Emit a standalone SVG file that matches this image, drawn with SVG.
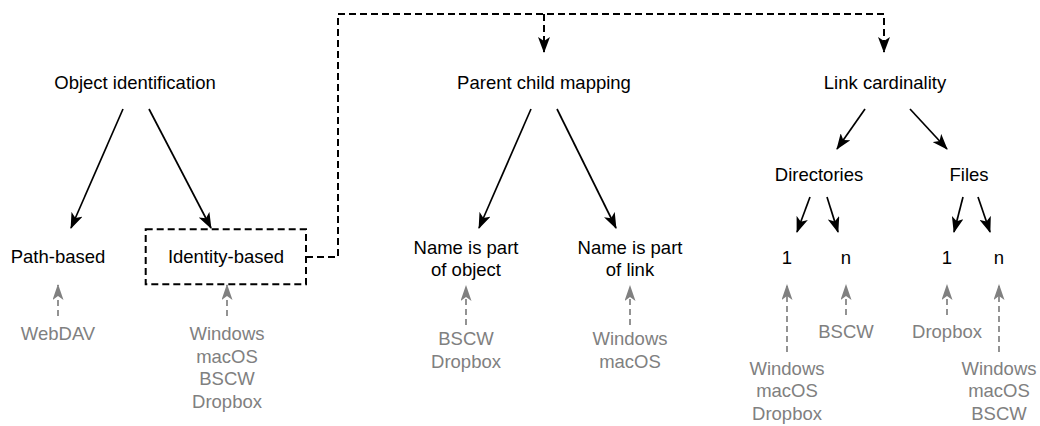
<svg xmlns="http://www.w3.org/2000/svg" width="1040" height="426" viewBox="0 0 1040 426">
<defs>
<marker id="ab" viewBox="0 0 16 12" refX="15" refY="6" markerWidth="16" markerHeight="12" markerUnits="userSpaceOnUse" orient="auto">
<path d="M0,0 L16,6 L0,12 L4,6 Z" fill="#000"/>
</marker>
<marker id="ag" viewBox="0 0 16 11" refX="15" refY="5.5" markerWidth="16" markerHeight="11" markerUnits="userSpaceOnUse" orient="auto">
<path d="M0,0 L16,5.5 L0,11 L4,5.5 Z" fill="#808080"/>
</marker>
<style>
text{font-family:"Liberation Sans",Arial,sans-serif;font-size:18.5px;text-anchor:middle}
.k{fill:#000}
.g{fill:#808080}
.e{stroke:#000;stroke-width:1.7;fill:none;marker-end:url(#ab)}
.d{stroke:#000;stroke-width:2;fill:none;stroke-dasharray:7 4}
.ga{stroke:#808080;stroke-width:1.7;fill:none;stroke-dasharray:6 4;marker-end:url(#ag)}
</style>
</defs>
<g id="connectors">
<line class="e" x1="123" y1="109" x2="71" y2="228"/>
<line class="e" x1="149" y1="109" x2="211" y2="228"/>
<path class="d" d="M306,257 H338 V14 H884 V52" marker-end="url(#ab)"/>
<path class="d" d="M544,14 V52" marker-end="url(#ab)"/>
<line class="e" x1="531" y1="109" x2="479" y2="228"/>
<line class="e" x1="557" y1="109" x2="616" y2="228"/>
<line class="e" x1="865" y1="109" x2="837" y2="149"/>
<line class="e" x1="910" y1="109" x2="947" y2="149"/>
<line class="e" x1="810" y1="197" x2="797" y2="232"/>
<line class="e" x1="827" y1="197" x2="838" y2="232"/>
<line class="e" x1="963" y1="197" x2="954" y2="232"/>
<line class="e" x1="978" y1="197" x2="990" y2="232"/>
<line class="ga" x1="58" y1="316" x2="58" y2="285"/>
<line class="ga" x1="227" y1="316" x2="227" y2="285"/>
<line class="ga" x1="466" y1="325" x2="466" y2="286"/>
<line class="ga" x1="630" y1="325" x2="630" y2="286"/>
<line class="ga" x1="787" y1="352" x2="787" y2="285"/>
<line class="ga" x1="846" y1="315" x2="846" y2="285"/>
<line class="ga" x1="947" y1="315" x2="947" y2="285"/>
<line class="ga" x1="999" y1="352" x2="999" y2="285"/>
</g>
<g id="object-identification"><text class="k" x="135" y="89">Object identification</text></g>
<g id="parent-child-mapping"><text class="k" x="544" y="89">Parent child mapping</text></g>
<g id="link-cardinality"><text class="k" x="885" y="89">Link cardinality</text></g>
<g id="path-based"><text class="k" x="58" y="263">Path-based</text></g>
<g id="identity-based">
<rect x="145.7" y="229.3" width="160.3" height="55" fill="none" stroke="#000" stroke-width="2" stroke-dasharray="7 4"/>
<text class="k" x="226" y="263">Identity-based</text>
</g>
<g id="name-object"><text class="k" x="466" y="253.5">Name is part</text><text class="k" x="466" y="276">of object</text></g>
<g id="name-link"><text class="k" x="630" y="253.5">Name is part</text><text class="k" x="630" y="276">of link</text></g>
<g id="directories"><text class="k" x="819" y="181">Directories</text></g>
<g id="files"><text class="k" x="969" y="181">Files</text></g>
<g id="dir-1"><text class="k" x="787" y="264">1</text></g>
<g id="dir-n"><text class="k" x="846" y="264">n</text></g>
<g id="files-1"><text class="k" x="947" y="264">1</text></g>
<g id="files-n"><text class="k" x="999" y="264">n</text></g>
<g id="webdav"><text class="g" x="58" y="340">WebDAV</text></g>
<g id="identity-systems"><text class="g" x="227" y="340">Windows</text><text class="g" x="227" y="362.5">macOS</text><text class="g" x="227" y="385">BSCW</text><text class="g" x="227" y="407.5">Dropbox</text></g>
<g id="object-systems"><text class="g" x="466" y="345">BSCW</text><text class="g" x="466" y="367.5">Dropbox</text></g>
<g id="link-systems"><text class="g" x="630" y="345">Windows</text><text class="g" x="630" y="367.5">macOS</text></g>
<g id="dir-1-systems"><text class="g" x="787" y="374.5">Windows</text><text class="g" x="787" y="397">macOS</text><text class="g" x="787" y="419.5">Dropbox</text></g>
<g id="dir-n-systems"><text class="g" x="846" y="338">BSCW</text></g>
<g id="files-1-systems"><text class="g" x="947" y="338">Dropbox</text></g>
<g id="files-n-systems"><text class="g" x="999" y="374.5">Windows</text><text class="g" x="999" y="397">macOS</text><text class="g" x="999" y="419.5">BSCW</text></g>
</svg>
